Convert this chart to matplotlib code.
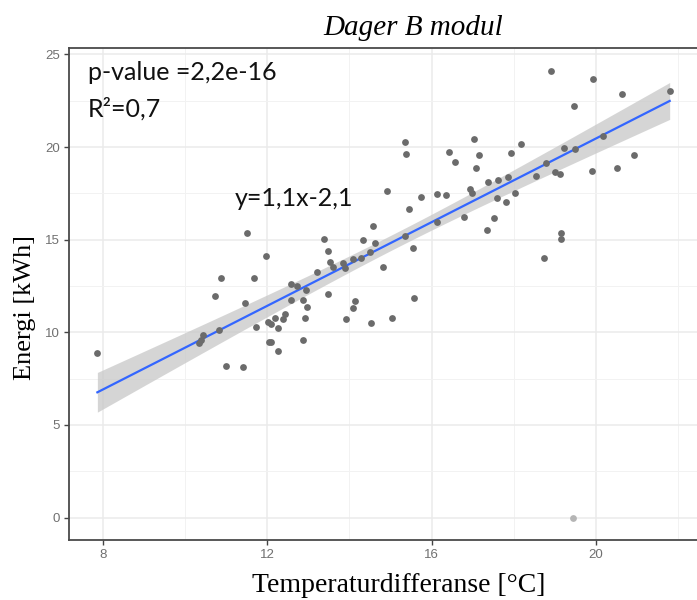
import numpy as np
import matplotlib
matplotlib.use("Agg")
import matplotlib.pyplot as plt
from matplotlib.ticker import MultipleLocator

# ---- data ----
temp_diff = [7.87, 10.34, 10.38, 10.44, 10.74, 10.82, 10.88, 10.99, 11.42, 11.45,
             11.50, 11.67, 11.73, 11.96, 12.01, 12.04, 12.09, 12.10, 12.19, 12.27,
             12.27, 12.39, 12.44, 12.58, 12.73, 12.58, 12.86, 12.95, 12.96, 12.93,
             12.86, 13.21, 13.38, 13.47, 13.49, 13.52, 13.59, 13.84, 13.89, 13.91,
             14.09, 14.28, 14.13, 14.09, 14.32, 14.49, 14.52, 14.57, 14.63, 14.81,
             14.92, 15.04, 15.34, 15.35, 15.37, 15.46, 15.54, 15.57, 15.75, 16.14,
             16.34, 16.14, 16.42, 16.57, 16.79, 16.93, 16.98, 17.03, 17.08, 17.14,
             17.34, 17.36, 17.51, 17.59, 17.62, 17.82, 17.86, 17.94, 18.02, 18.17,
             18.53, 18.73, 18.78, 18.91, 19.01, 19.11, 19.14, 19.14, 19.21, 19.48,
             19.47, 19.90, 19.93, 20.17, 20.50, 20.64, 20.92, 21.79]
energy = [8.90, 9.41, 9.61, 9.83, 11.96, 10.10, 12.91, 8.18, 8.14, 11.58,
          15.38, 12.91, 10.30, 14.12, 10.56, 9.46, 9.46, 10.43, 10.79, 10.25,
          8.98, 10.73, 10.97, 12.62, 12.48, 11.75, 11.75, 12.28, 11.39, 10.79,
          9.58, 13.27, 15.03, 12.07, 14.41, 13.82, 13.51, 13.75, 13.45, 10.72,
          13.97, 13.99, 11.70, 11.34, 14.97, 14.33, 10.49, 15.76, 14.85, 13.51,
          17.62, 10.79, 15.22, 20.29, 19.63, 16.66, 14.54, 11.83, 17.32, 17.46,
          17.39, 15.93, 19.75, 19.20, 16.25, 17.72, 17.50, 20.43, 18.85, 19.57,
          15.52, 18.11, 16.18, 17.27, 18.24, 17.03, 18.37, 19.69, 17.51, 20.17,
          18.43, 14.01, 19.16, 24.11, 18.63, 18.54, 15.34, 15.03, 19.95, 19.89,
          22.24, 18.73, 23.70, 20.58, 18.85, 22.84, 19.56, 23.03]
# separate (lighter) zero observation
zero_x = [19.44]
zero_y = [0.0]

x_ticks = [8, 12, 16, 20]
y_ticks = [0, 5, 10, 15, 20, 25]

title = "Dager B modul"
x_label = "Temperaturdifferanse [°C]"
y_label = "Energi [kWh]"
txt_p = "p-value =2,2e-16"
txt_r2 = "R²=0,7"
txt_eq = "y=1,1x-2,1"

# ---- linear fit with 95% confidence band ----
x = np.array(temp_diff)
y = np.array(energy)
n = len(x)
b1, b0 = np.polyfit(x, y, 1)
resid = y - (b0 + b1 * x)
s = np.sqrt(np.sum(resid ** 2) / (n - 2))
sxx = np.sum((x - x.mean()) ** 2)
xs = np.linspace(x.min(), x.max(), 80)
ys = b0 + b1 * xs
se = s * np.sqrt(1.0 / n + (xs - x.mean()) ** 2 / sxx)
tq = 1.985
lo, hi = ys - tq * se, ys + tq * se

# ---- figure ----
fig = plt.figure(figsize=(6.97, 6.00), dpi=100)
ax = fig.add_axes([69 / 697, 60 / 600, (703 - 69) / 697, (540 - 48) / 600])
ax.set_xlim(7.18, 22.6)
ax.set_ylim(-1.21, 25.35)

ax.xaxis.set_minor_locator(MultipleLocator(2))
ax.yaxis.set_minor_locator(MultipleLocator(2.5))
ax.set_xticks(x_ticks)
ax.set_yticks(y_ticks)
ax.grid(which="major", color="#ebebeb", linewidth=1.1)
ax.grid(which="minor", color="#f2f2f2", linewidth=0.7)
ax.set_axisbelow(True)
ax.tick_params(which="minor", length=0)
ax.tick_params(which="major", length=3.5, width=1.0, color="#444444",
               labelsize=9.5, labelcolor="#707070", pad=3)
for lab in ax.get_xticklabels() + ax.get_yticklabels():
    lab.set_fontfamily("Liberation Sans")

for side in ["left", "bottom", "top"]:
    ax.spines[side].set_color("#4a4a4a")
    ax.spines[side].set_linewidth(1.3)
ax.spines["right"].set_visible(False)

ax.fill_between(xs, lo, hi, color="#c8c8c8", alpha=0.75, linewidth=0, zorder=2)
ax.plot(xs, ys, color="#3366FF", linewidth=1.6, zorder=3)
ax.scatter(x, y, s=24, color="#6b6b6b", linewidths=0, zorder=4)
ax.scatter(zero_x, zero_y, s=24, color="#b5b5b5", linewidths=0, zorder=4)

ann = dict(fontfamily="Lato", fontsize=18, color="#111111", zorder=5)
ax.text(7.63, 23.6, txt_p, ha="left", va="baseline", **ann)
ax.text(7.63, 21.66, txt_r2, ha="left", va="baseline", **ann)
ax.text(11.2, 16.83, txt_eq, ha="left", va="baseline", **ann)

fig.text(413 / 697, 1 - 28 / 600, title, ha="center", va="center",
         fontfamily="Liberation Serif", fontstyle="italic", fontsize=21)
fig.text(399 / 697, 1 - 586 / 600, x_label, ha="center", va="center",
         fontfamily="Liberation Serif", fontsize=20)
fig.text(25 / 697, 1 - 308 / 600, y_label, ha="center", va="center",
         rotation=90, fontfamily="Liberation Serif", fontsize=19)

fig.savefig("out.png", dpi=100, facecolor="white")
